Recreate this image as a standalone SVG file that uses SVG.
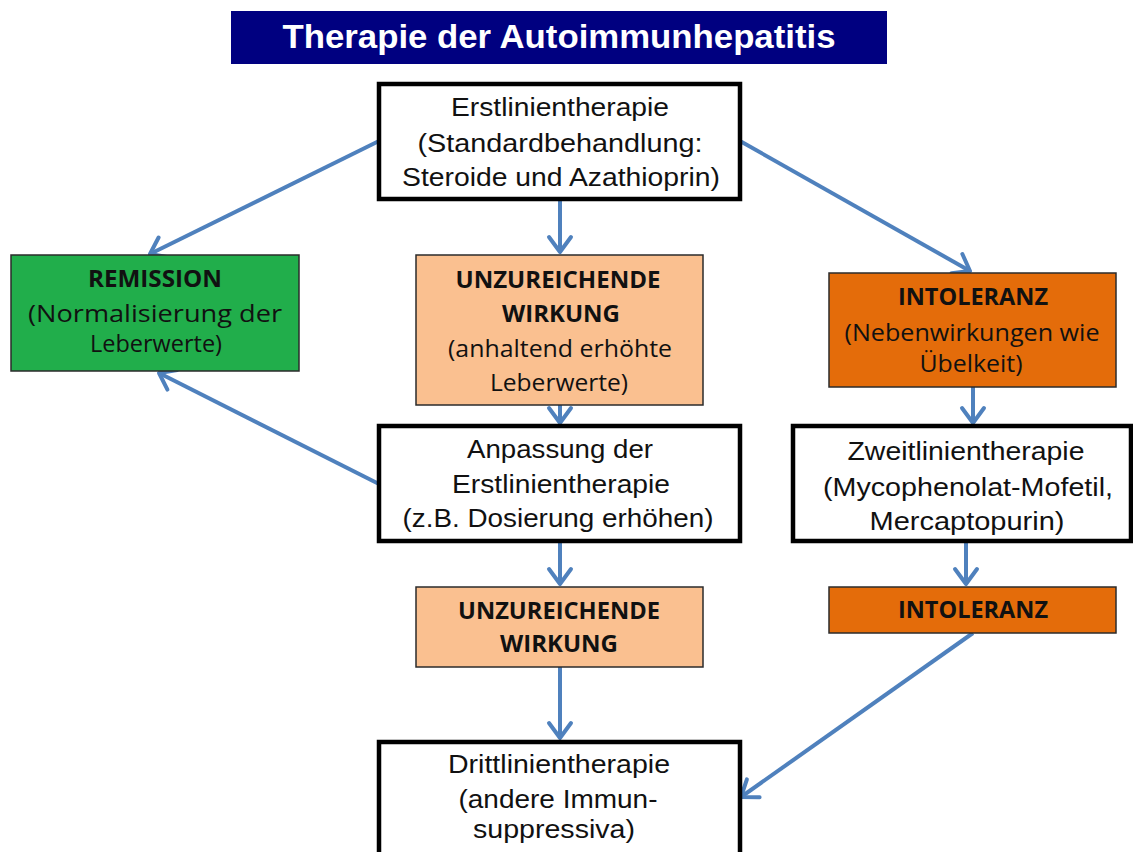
<svg xmlns="http://www.w3.org/2000/svg" width="1133" height="852" viewBox="0 0 1133 852">
<style>
.wbox{fill:#fff;stroke:#000;stroke-width:4.5}
.cbox{stroke:#2b2b2b;stroke-width:1.5}
.ar{font-family:"Liberation Sans",Arial,sans-serif;font-size:26px;fill:#111;text-anchor:middle}
.ca{font-family:"Open Sans","Noto Sans",sans-serif;font-size:23px;fill:#111;text-anchor:middle}
.cab{font-family:"Open Sans","Noto Sans",sans-serif;font-size:23px;font-weight:bold;fill:#111;text-anchor:middle}
.conn line{stroke:#4F81BD;stroke-width:4;fill:none;marker-end:url(#ah)}
</style>
<defs>
<marker id="ah" markerUnits="userSpaceOnUse" markerWidth="30" markerHeight="30" viewBox="-20 -15 30 30" refX="0" refY="0" orient="auto">
<path d="M-15,-11 L0,0 L-15,11" fill="none" stroke="#4F81BD" stroke-width="4" stroke-linecap="round" stroke-linejoin="round"/>
</marker>
</defs>
<rect width="1133" height="852" fill="#fff"/>
<g id="title">
<rect x="231" y="11" width="656" height="53" fill="#000080"/>
<text x="559" y="48" font-family="Liberation Sans,Arial,sans-serif" font-size="33" font-weight="bold" fill="#fff" text-anchor="middle" textLength="553" lengthAdjust="spacingAndGlyphs">Therapie der Autoimmunhepatitis</text>
</g>
<g class="conn">
<line x1="379" y1="141" x2="150" y2="254"/>
<line x1="560" y1="199" x2="560" y2="252"/>
<line x1="740" y1="141" x2="970" y2="271"/>
<line x1="560" y1="405" x2="560" y2="423"/>
<line x1="379" y1="484" x2="159" y2="373"/>
<line x1="973" y1="387" x2="973" y2="423"/>
<line x1="560" y1="541" x2="560" y2="584"/>
<line x1="966" y1="541" x2="966" y2="584"/>
<line x1="560" y1="667" x2="560" y2="738"/>
<line x1="973" y1="633" x2="741" y2="797"/>
</g>
<g id="erstlinie">
<rect class="wbox" x="379" y="84" width="361" height="115"/>
<text class="ar" x="560" y="116" textLength="218" lengthAdjust="spacingAndGlyphs">Erstlinientherapie</text>
<text class="ar" x="560" y="152" textLength="285" lengthAdjust="spacingAndGlyphs">(Standardbehandlung:</text>
<text class="ar" x="561" y="186" textLength="318" lengthAdjust="spacingAndGlyphs">Steroide und Azathioprin)</text>
</g>
<g id="remission">
<rect class="cbox" x="11" y="255" width="288" height="116" fill="#21AE4B"/>
<text class="cab" x="155" y="287" textLength="134" lengthAdjust="spacingAndGlyphs">REMISSION</text>
<text class="ca" x="155" y="322" textLength="254" lengthAdjust="spacingAndGlyphs">(Normalisierung der</text>
<text class="ca" x="156" y="352" textLength="132" lengthAdjust="spacingAndGlyphs">Leberwerte)</text>
</g>
<g id="unzureichend1">
<rect class="cbox" x="416" y="255" width="287" height="150" fill="#FAC090"/>
<text class="cab" x="558" y="288" textLength="205" lengthAdjust="spacingAndGlyphs">UNZUREICHENDE</text>
<text class="cab" x="561" y="322" textLength="118" lengthAdjust="spacingAndGlyphs">WIRKUNG</text>
<text class="ca" x="560" y="357" textLength="224" lengthAdjust="spacingAndGlyphs">(anhaltend erhöhte</text>
<text class="ca" x="559" y="391" textLength="138" lengthAdjust="spacingAndGlyphs">Leberwerte)</text>
</g>
<g id="intoleranz1">
<rect class="cbox" x="829" y="273" width="287" height="114" fill="#E46C0A"/>
<text class="cab" x="973" y="305" textLength="150" lengthAdjust="spacingAndGlyphs">INTOLERANZ</text>
<text class="ca" x="972" y="341" textLength="255" lengthAdjust="spacingAndGlyphs">(Nebenwirkungen wie</text>
<text class="ca" x="971" y="372" textLength="103" lengthAdjust="spacingAndGlyphs">Übelkeit)</text>
</g>
<g id="anpassung">
<rect class="wbox" x="379" y="426" width="361" height="115"/>
<text class="ar" x="560" y="458" textLength="186" lengthAdjust="spacingAndGlyphs">Anpassung der</text>
<text class="ar" x="561" y="493" textLength="218" lengthAdjust="spacingAndGlyphs">Erstlinientherapie</text>
<text class="ar" x="558" y="527" textLength="311" lengthAdjust="spacingAndGlyphs">(z.B. Dosierung erhöhen)</text>
</g>
<g id="zweitlinie">
<rect class="wbox" x="793" y="426" width="338" height="115"/>
<text class="ar" x="966" y="460" textLength="237" lengthAdjust="spacingAndGlyphs">Zweitlinientherapie</text>
<text class="ar" x="968" y="496" textLength="290" lengthAdjust="spacingAndGlyphs">(Mycophenolat-Mofetil,</text>
<text class="ar" x="967" y="530" textLength="195" lengthAdjust="spacingAndGlyphs">Mercaptopurin)</text>
</g>
<g id="unzureichend2">
<rect class="cbox" x="416" y="587" width="287" height="80" fill="#FAC090"/>
<text class="cab" x="559" y="619" textLength="202" lengthAdjust="spacingAndGlyphs">UNZUREICHENDE</text>
<text class="cab" x="559" y="652" textLength="118" lengthAdjust="spacingAndGlyphs">WIRKUNG</text>
</g>
<g id="intoleranz2">
<rect class="cbox" x="829" y="587" width="287" height="46" fill="#E46C0A"/>
<text class="cab" x="973" y="618" textLength="150" lengthAdjust="spacingAndGlyphs">INTOLERANZ</text>
</g>
<g id="drittlinie">
<rect class="wbox" x="379" y="742" width="361" height="120"/>
<text class="ar" x="559" y="773" textLength="222" lengthAdjust="spacingAndGlyphs">Drittlinientherapie</text>
<text class="ar" x="558" y="808" textLength="199" lengthAdjust="spacingAndGlyphs">(andere Immun-</text>
<text class="ar" x="554" y="838" textLength="162" lengthAdjust="spacingAndGlyphs">suppressiva)</text>
</g>
</svg>
